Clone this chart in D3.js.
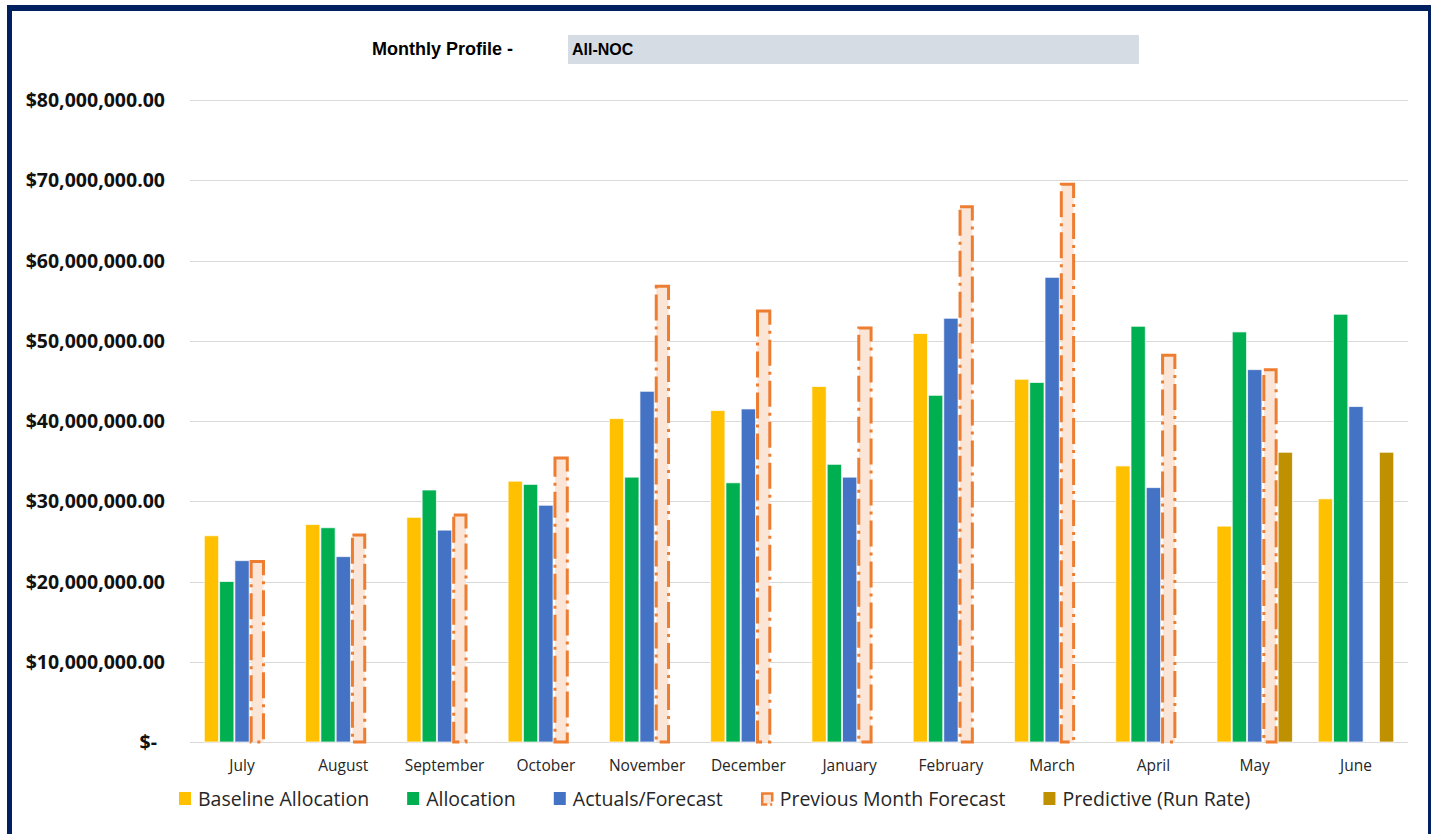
<!DOCTYPE html>
<html>
<head>
<meta charset="utf-8">
<script src="https://cdn.jsdelivr.net/npm/d3@7"></script>
<style>
  html, body { margin: 0; padding: 0; background: #ffffff; }
  svg { display: block; }
</style>
</head>
<body>
<svg id="chart" width="1438" height="834"></svg>
<script>
// Monthly profile data (dollars)
const months = ["July", "August", "September", "October", "November", "December",
                "January", "February", "March", "April", "May", "June"];

const baselineAllocation = [25700000, 27100000, 28000000, 32500000, 40300000, 41300000,
                            44300000, 50900000, 45200000, 34400000, 26900000, 30300000];
const allocation         = [20000000, 26700000, 31400000, 32100000, 33000000, 32300000,
                            34600000, 43200000, 44800000, 51800000, 51100000, 53300000];
const actualsForecast    = [22600000, 23100000, 26400000, 29500000, 43700000, 41500000,
                            33000000, 52800000, 57900000, 31700000, 46400000, 41800000];
const previousMonth      = [22500000, 25800000, 28300000, 35400000, 56800000, 53700000,
                            51600000, 66700000, 69500000, 48200000, 46400000, null];
const predictiveRunRate  = [null, null, null, null, null, null,
                            null, null, null, null, 36100000, 36100000];

const seriesNames = ["Baseline Allocation", "Allocation", "Actuals/Forecast",
                     "Previous Month Forecast", "Predictive (Run Rate)"];
const seriesValues = [baselineAllocation, allocation, actualsForecast, previousMonth, predictiveRunRate];
const seriesColors = ["#FFC000", "#00B050", "#4472C4", "#ED7D31", "#BF9000"];

const yTicks = [0, 10000000, 20000000, 30000000, 40000000, 50000000, 60000000, 70000000, 80000000];

const profileLabel = "Monthly Profile -";
const profileValue = "All-NOC";

// ---- layout ----
const svg = d3.select("#chart");
const plot = { left: 191.4, right: 1406.6, top: 100, bottom: 742 };
const bodyFont = "'Open Sans', 'Liberation Sans', Arial, sans-serif";
const narrowFont = "'Liberation Sans Narrow', 'Arial Narrow', 'Liberation Sans', sans-serif";

const x0 = d3.scaleBand()
  .domain(months)
  .range([plot.left, plot.right])
  .paddingInner(0.245)
  .paddingOuter(0.1225);

const x1 = d3.scaleBand()
  .domain(d3.range(seriesNames.length))
  .range([0, x0.bandwidth()])
  .padding(0);

const y = d3.scaleLinear().domain([0, 80000000]).range([plot.bottom, plot.top]);

// frame
const navy = "#002060";
svg.append("rect").attr("x", 7).attr("y", 5).attr("width", 1424).attr("height", 6).attr("fill", navy);
svg.append("rect").attr("x", 7).attr("y", 5).attr("width", 5).attr("height", 840).attr("fill", navy);
svg.append("rect").attr("x", 1428).attr("y", 5).attr("width", 3).attr("height", 840).attr("fill", navy);

// header
svg.append("text")
  .attr("x", 372).attr("y", 55)
  .attr("font-family", narrowFont)
  .attr("font-weight", "bold").attr("font-size", 18).attr("fill", "#000")
  .text(profileLabel);
svg.append("rect").attr("x", 568).attr("y", 35).attr("width", 571).attr("height", 29).attr("fill", "#D6DCE4");
svg.append("text")
  .attr("x", 572).attr("y", 55)
  .attr("font-family", narrowFont)
  .attr("font-weight", "bold").attr("font-size", 16).attr("fill", "#000")
  .text(profileValue);

// gridlines
svg.append("g").selectAll("line").data(yTicks).join("line")
  .attr("x1", 190).attr("x2", 1408)
  .attr("y1", d => Math.round(y(d)) + 0.5).attr("y2", d => Math.round(y(d)) + 0.5)
  .attr("stroke", "#D9D9D9").attr("stroke-width", 1.2);

// y-axis labels
const fmt = d => d === 0 ? "$-" : "$" + d3.format(",.2f")(d);
svg.append("g").selectAll("text").data(yTicks).join("text")
  .attr("x", d => d === 0 ? 157 : 165)
  .attr("y", d => y(d))
  .attr("dy", "0.36em")
  .attr("text-anchor", "end")
  .attr("font-family", bodyFont)
  .attr("font-weight", "bold").attr("font-size", 19.5).attr("fill", "#111")
  .text(fmt);

// bars
const groups = svg.append("g").selectAll("g").data(months).join("g")
  .attr("transform", m => `translate(${x0(m)},0)`);

const slotW = x1.bandwidth();
seriesValues.forEach((vals, si) => {
  const isPrev = si === 3;
  groups.filter((m, i) => vals[i] != null)
    .append("rect")
    .attr("x", isPrev ? x1(si) + 1.5 : x1(si) + 0.5)
    .attr("width", isPrev ? slotW - 3 : slotW - 1)
    .attr("y", (m) => y(vals[months.indexOf(m)]))
    .attr("height", (m) => y(0) - y(vals[months.indexOf(m)]))
    .attr("fill", isPrev ? "#FBE5D6" : seriesColors[si])
    .attr("stroke", isPrev ? seriesColors[si] : "rgba(255,255,255,0.7)")
    .attr("stroke-width", isPrev ? 3 : 1)
    .attr("stroke-dasharray", isPrev ? "26,6,3,6" : null);
});

// month labels
svg.append("g").selectAll("text").data(months).join("text")
  .attr("x", m => x0(m) + x0.bandwidth() / 2)
  .attr("y", 771)
  .attr("text-anchor", "middle")
  .attr("font-family", bodyFont)
  .attr("font-size", 15.5).attr("fill", "#262626")
  .text(m => m);

// legend
const legend = svg.append("g");
let lx = 179;
const legendGap = 38;
seriesNames.forEach((name, si) => {
  const g = legend.append("g").attr("transform", `translate(${lx},0)`);
  if (si === 3) {
    g.append("rect").attr("x", 1.5).attr("y", 793.5).attr("width", 10).attr("height", 11)
      .attr("fill", "#FBE5D6").attr("stroke", seriesColors[si]).attr("stroke-width", 2.5)
      .attr("stroke-dasharray", "18,3,2,3");
  } else {
    g.append("rect").attr("x", 0).attr("y", 792).attr("width", 12).attr("height", 13)
      .attr("fill", seriesColors[si]);
  }
  const t = g.append("text")
    .attr("x", 19).attr("y", 806)
    .attr("font-family", bodyFont)
    .attr("font-size", 19.5).attr("fill", "#262626")
    .text(name);
  lx += 19 + t.node().getComputedTextLength() + legendGap;
});
</script>
</body>
</html>
